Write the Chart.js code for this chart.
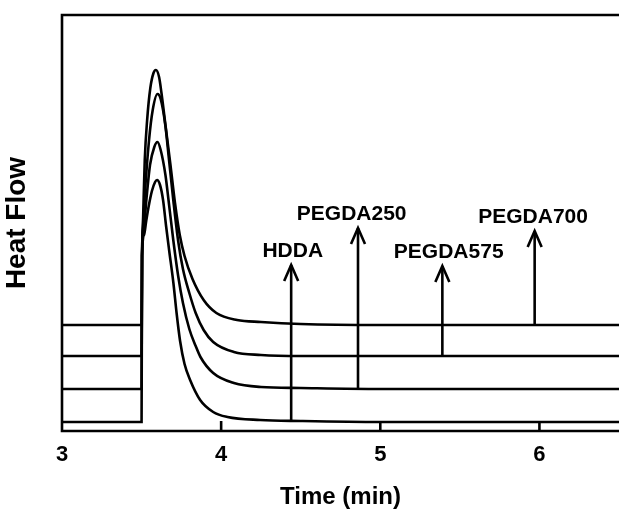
<!DOCTYPE html>
<html>
<head>
<meta charset="utf-8">
<script src="https://cdn.jsdelivr.net/npm/chart.js@4/dist/chart.umd.min.js"></script>
<style>
  html, body { margin: 0; padding: 0; background: #fff; }
  #wrap { width: 619px; height: 510px; }
</style>
</head>
<body>
<div id="wrap"><canvas id="dsc"></canvas></div>
<script>
// Photo-DSC curves, heat flow in arbitrary units (stacked with offsets)
const hddaX = [3.0, 3.5, 3.503, 3.515, 3.53, 3.545, 3.565, 3.585, 3.597, 3.616, 3.635, 3.654, 3.673, 3.70, 3.72, 3.742, 3.77, 3.805, 3.868, 3.95, 4.04, 4.245, 4.5, 5.0, 6.5];
const hddaY = [9, 9, 175, 196, 211, 225, 240, 249, 251, 246, 231, 205, 181, 148, 118, 90, 67, 51, 31, 19, 14, 11, 10, 9, 9];

const pegda250X = [3.0, 3.5, 3.503, 3.515, 3.53, 3.553, 3.58, 3.60, 3.62, 3.65, 3.67, 3.70, 3.73, 3.76, 3.80, 3.84, 3.87, 3.95, 4.08, 4.25, 4.5, 5.0, 6.5];
const pegda250Y = [42, 42, 175, 205, 231, 266, 284, 289, 281, 256, 230, 190, 155, 128, 102, 85, 74, 58, 48, 44, 43, 42, 42];

const pegda575X = [3.0, 3.5, 3.503, 3.51, 3.52, 3.547, 3.57, 3.60, 3.62, 3.65, 3.67, 3.70, 3.73, 3.76, 3.80, 3.84, 3.89, 3.95, 4.08, 4.25, 4.5, 5.0, 6.5];
const pegda575Y = [75, 75, 175, 205, 235, 291, 321, 337, 332, 305, 275, 230, 190, 162, 138, 118, 101, 89, 79, 76, 75, 75, 75];

const pegda700X = [3.0, 3.5, 3.503, 3.51, 3.52, 3.535, 3.555, 3.575, 3.59, 3.61, 3.625, 3.65, 3.68, 3.71, 3.74, 3.77, 3.82, 3.89, 3.97, 4.10, 4.25, 4.5, 5.0, 6.5];
const pegda700Y = [106, 106, 175, 215, 271, 311, 343, 358, 361, 354, 338, 306, 268, 228, 196, 175, 152, 131, 118, 111, 109, 107, 106, 106];

// arrows marking each baseline
const arrowNames = ['HDDA', 'PEGDA250', 'PEGDA575', 'PEGDA700'];
const arrowX = [4.44, 4.86, 5.39, 5.97];
const arrowBase = [9, 42, 75, 106];
const arrowTip = [166, 203, 165, 200];
const labelX = [4.45, 4.82, 5.43, 5.96];

const xTicks = [3, 4, 5, 6];

const FONT = "'Liberation Sans', Arial, sans-serif";

function pts(xs, ys) {
    return xs.map((x, i) => ({ x: x, y: ys[i] }));
}

function curve(label, xs, ys) {
    return {
        label: label,
        data: pts(xs, ys),
        showLine: true,
        borderColor: '#000',
        borderWidth: 2.6,
        pointRadius: 0,
        cubicInterpolationMode: 'monotone',
        fill: false
    };
}

// frame (right side is cut off in the original), inward ticks, arrows, labels
const decorations = {
    id: 'decorations',
    afterDraw(chart) {
        const ctx = chart.ctx;
        const a = chart.chartArea;
        const xs = chart.scales.x;
        const ys = chart.scales.y;
        ctx.save();
        ctx.strokeStyle = '#000';
        ctx.lineWidth = 2.6;
        ctx.beginPath();
        ctx.moveTo(a.right + 2, a.top);
        ctx.lineTo(a.left, a.top);
        ctx.lineTo(a.left, a.bottom);
        ctx.lineTo(a.right + 2, a.bottom);
        ctx.stroke();

        xTicks.slice(1).forEach(t => {
            const px = xs.getPixelForValue(t);
            ctx.beginPath();
            ctx.moveTo(px, a.bottom);
            ctx.lineTo(px, a.bottom - 10);
            ctx.stroke();
        });

        ctx.fillStyle = '#000';
        ctx.font = 'bold 21px ' + FONT;
        ctx.textAlign = 'center';
        ctx.textBaseline = 'alphabetic';
        arrowNames.forEach((name, i) => {
            const px = xs.getPixelForValue(arrowX[i]);
            const pb = ys.getPixelForValue(arrowBase[i]);
            const pt = ys.getPixelForValue(arrowTip[i]);
            ctx.beginPath();
            ctx.moveTo(px, pb);
            ctx.lineTo(px, pt);
            ctx.stroke();
            ctx.beginPath();
            ctx.moveTo(px - 7, pt + 16);
            ctx.lineTo(px, pt);
            ctx.lineTo(px + 7, pt + 16);
            ctx.stroke();
            ctx.fillText(name, xs.getPixelForValue(labelX[i]), pt - 8);
        });
        ctx.restore();
    }
};

new Chart(document.getElementById('dsc'), {
    type: 'scatter',
    data: {
        datasets: [
            curve('HDDA', hddaX, hddaY),
            curve('PEGDA250', pegda250X, pegda250Y),
            curve('PEGDA575', pegda575X, pegda575Y),
            curve('PEGDA700', pegda700X, pegda700Y)
        ]
    },
    options: {
        responsive: true,
        maintainAspectRatio: false,
        animation: false,
        layout: { padding: { top: 15, right: 0, left: 0, bottom: 0 } },
        plugins: {
            legend: { display: false },
            tooltip: { enabled: false }
        },
        scales: {
            x: {
                type: 'linear',
                min: 3,
                max: 6.5,
                grid: { display: false, drawTicks: false },
                border: { display: false },
                ticks: {
                    stepSize: 1,
                    includeBounds: false,
                    padding: 11,
                    color: '#000',
                    font: { family: FONT, size: 22, weight: 'bold' }
                },
                title: {
                    display: true,
                    text: 'Time (min)',
                    color: '#000',
                    padding: { top: 0, bottom: 0 },
                    font: { family: FONT, size: 24, weight: 'bold', lineHeight: 1.05 }
                },
                afterFit: s => { s.height = 79; }
            },
            y: {
                min: 0,
                max: 416,
                grid: { display: false, drawTicks: false },
                border: { display: false },
                ticks: { display: false },
                title: {
                    display: true,
                    text: 'Heat Flow',
                    color: '#000',
                    padding: { top: 0, bottom: 0 },
                    font: { family: FONT, size: 28, weight: 'bold' }
                },
                afterFit: s => { s.width = 62; }
            }
        }
    },
    plugins: [decorations]
});
</script>
</body>
</html>
